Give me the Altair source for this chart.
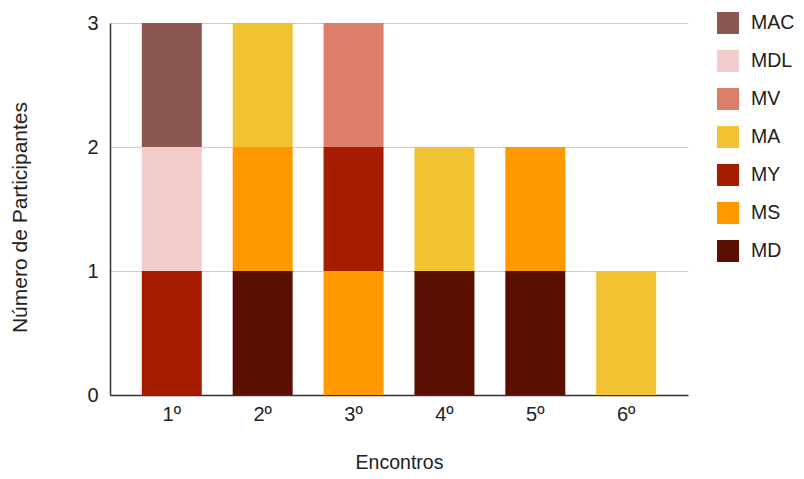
import altair as alt
import pandas as pd

encontros = ["1º", "2º", "3º", "4º", "5º", "6º"]
series = ["MAC", "MDL", "MV", "MA", "MY", "MS", "MD"]
colors = ["#8c574f", "#f4cccc", "#dd7e6b", "#f1c232", "#a61c00", "#ff9900", "#5b0f00"]
MD = [0, 1, 0, 1, 1, 0]
MS = [0, 1, 1, 0, 1, 0]
MY = [1, 0, 1, 0, 0, 0]
MA = [0, 1, 0, 1, 0, 1]
MV = [0, 0, 1, 0, 0, 0]
MDL = [1, 0, 0, 0, 0, 0]
MAC = [1, 0, 0, 0, 0, 0]

values = {"MD": MD, "MS": MS, "MY": MY, "MA": MA, "MV": MV, "MDL": MDL, "MAC": MAC}
stack_order = ["MD", "MS", "MY", "MA", "MV", "MDL", "MAC"]

rows = []
for s in stack_order:
    for e, v in zip(encontros, values[s]):
        if v:
            rows.append({"Encontro": e, "Serie": s, "Valor": v, "ordem": stack_order.index(s)})
df = pd.DataFrame(rows)

font = "Liberation Sans"

chart = alt.Chart(df).mark_bar().encode(
    x=alt.X("Encontro:N", sort=encontros,
            scale=alt.Scale(paddingInner=0.34, paddingOuter=0.35),
            axis=alt.Axis(title="Encontros", labelAngle=0, labelFontSize=20, labelFont=font,
                          labelColor="#222", titleFont=font, titleFontSize=19.5, titleFontWeight="normal",
                          titleColor="#222", titlePadding=29, ticks=False, labelPadding=9,
                          domainColor="#333", domainWidth=1.5, grid=False)),
    y=alt.Y("sum(Valor):Q", scale=alt.Scale(domain=[0, 3]),
            axis=alt.Axis(title="Número de Participantes", values=[0, 1, 2, 3], labelFontSize=20,
                          labelFont=font, labelColor="#222", titleFont=font, titleFontSize=21,
                          titleFontWeight="normal", titleColor="#222", titlePadding=56,
                          titleY=194,
                          ticks=False, labelPadding=12, domainColor="#333", domainWidth=1.5,
                          gridColor="#cccccc", format="d")),
    color=alt.Color("Serie:N", scale=alt.Scale(domain=series, range=colors),
                    legend=alt.Legend(title=None, orient="none", legendX=607, legendY=-11,
                                      symbolType="square", symbolSize=484, symbolStrokeWidth=0,
                                      symbolOpacity=1, labelFontSize=19.5, labelFont=font,
                                      labelColor="#222", labelOffset=12, rowPadding=16)),
    order=alt.Order("ordem:Q", sort="ascending"),
).properties(
    width=578, height=372,
    autosize=alt.AutoSizeParams(type="none"),
    padding={"left": 102, "top": 15, "right": 108, "bottom": 76},
).configure_view(stroke=None)

chart.save("out.html", embed_options={"renderer": "svg", "actions": False})
